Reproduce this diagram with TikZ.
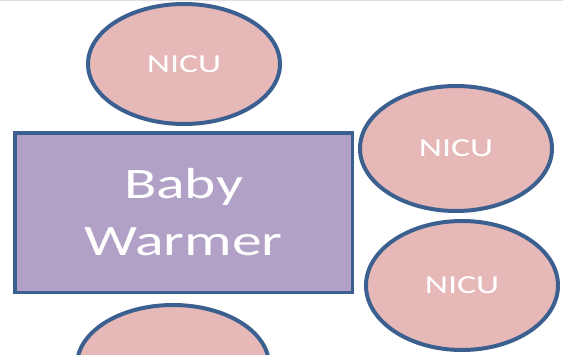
\documentclass[tikz,border=0pt]{standalone}
\usepackage{fontspec}
\setmainfont{Carlito}
\usetikzlibrary{shapes.geometric}
\definecolor{edgeblue}{HTML}{3B6090}
\definecolor{pinkfill}{HTML}{E6B9B8}
\definecolor{purplefill}{HTML}{B2A1C7}
\begin{document}
\begin{tikzpicture}[x=1pt,y=-1pt,
  nicu/.style={ellipse, draw=edgeblue, fill=pinkfill, line width=4pt, inner sep=0pt,
    minimum width=192pt, text=white, font=\fontsize{26}{30}\selectfont},
  warmer/.style={rectangle, draw=edgeblue, fill=purplefill, line width=3.5pt, inner sep=0pt,
    minimum width=337.5pt, minimum height=159.5pt, text=white, align=center,
    font=\fontsize{43.5}{57}\selectfont}]
\useasboundingbox (0,0) rectangle (563,354);
\clip (0,0) rectangle (563,354);
\draw[gray!25, line width=1pt] (0,0.5) -- (563,0.5);
\node[nicu, minimum height=120pt] (top) at (184,64) {\scalebox{1.38}[1]{NICU}};
\node[warmer] (bw) at (183.5,212.5) {\scalebox{1.37}[1]{Baby}\\\scalebox{1.37}[1]{Warmer}};
\node[nicu, minimum height=125pt] (r1) at (456,148.5) {\scalebox{1.38}[1]{NICU}};
\node[nicu, minimum height=129pt] (r2) at (462,285.5) {\scalebox{1.38}[1]{NICU}};
\node[nicu, minimum height=120pt] (bot) at (173,365) {};
\end{tikzpicture}
\end{document}
